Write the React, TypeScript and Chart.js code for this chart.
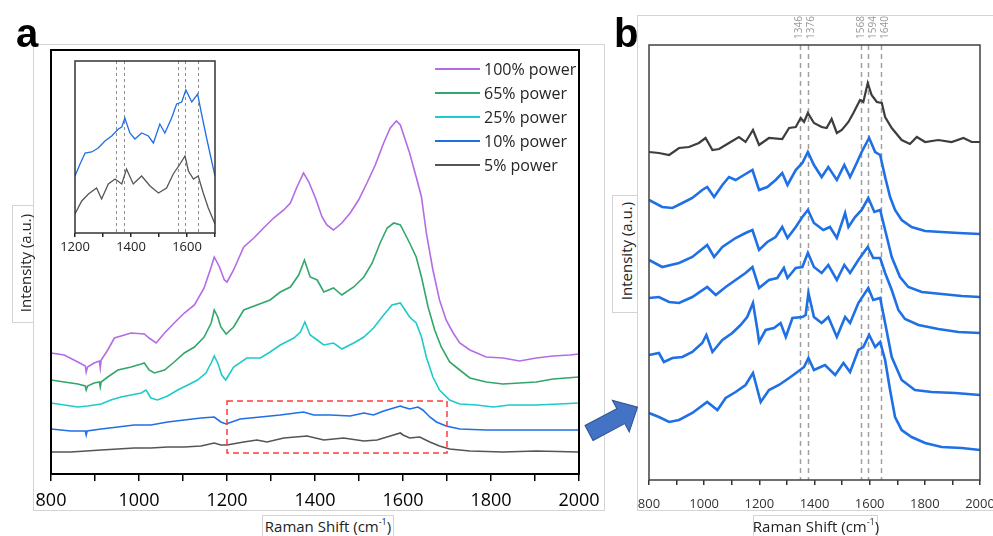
import React, { useEffect, useRef } from 'react';
import { Chart, registerables } from 'chart.js';

Chart.register(...registerables);

type Pt = [number, number];

// ---------- axis / annotation values ----------
const xTickLabels = [800, 1000, 1200, 1400, 1600, 1800, 2000];
const insetTickLabels = [1200, 1400, 1600];
const peakPositions = [1346, 1376, 1568, 1594, 1640];
const zoomBoxX = [1200, 1700];
const zoomBoxY = [21, 73];
const seriesLabelsA = ['100% power', '65% power', '25% power', '10% power', '5% power'];

// ---------- panel a : spectra (Raman shift, intensity a.u.) ----------
const power100: Pt[] = [
  [800, 121], [830, 119], [861, 112], [878, 108], [880, 102], [883, 107], [898, 111], [910, 113], [912, 106], [914, 114],
  [929, 124], [944, 136], [967, 139], [982, 141], [1012, 140], [1023, 136], [1039, 131], [1058, 141], [1080, 151],
  [1103, 161], [1126, 169], [1148, 186], [1164, 207], [1171, 217], [1183, 207], [1194, 194], [1200, 192], [1215, 204],
  [1238, 227], [1261, 236], [1283, 246], [1306, 256], [1329, 264], [1344, 271], [1359, 287], [1374, 301], [1386, 292],
  [1401, 276], [1416, 257], [1427, 249], [1442, 244], [1461, 251], [1480, 261], [1499, 274], [1518, 291], [1537, 309],
  [1556, 331], [1571, 346], [1585, 353], [1594, 349], [1600, 341], [1615, 321], [1630, 297], [1642, 277], [1653, 241],
  [1668, 204], [1683, 174], [1698, 154], [1714, 141], [1729, 131], [1752, 124], [1789, 117], [1827, 116], [1865, 113],
  [1903, 116], [1941, 118], [1979, 119], [2000, 120],
];
const power65: Pt[] = [
  [800, 94], [830, 92], [861, 90], [878, 88], [880, 84], [883, 88], [898, 91], [910, 92], [912, 87], [914, 92],
  [929, 97], [952, 104], [982, 107], [1005, 110], [1012, 111], [1023, 104], [1035, 101], [1058, 104], [1080, 112],
  [1103, 121], [1126, 127], [1148, 137], [1164, 151], [1171, 164], [1179, 157], [1186, 147], [1198, 140], [1215, 147],
  [1238, 164], [1268, 169], [1298, 174], [1321, 182], [1344, 187], [1363, 199], [1376, 214], [1389, 197], [1405, 194],
  [1420, 182], [1442, 186], [1461, 179], [1488, 187], [1511, 197], [1530, 211], [1548, 231], [1564, 246], [1579, 251],
  [1594, 249], [1600, 244], [1615, 231], [1630, 217], [1642, 197], [1657, 167], [1672, 144], [1687, 127], [1706, 112],
  [1729, 104], [1752, 96], [1789, 92], [1827, 90], [1865, 91], [1903, 92], [1941, 95], [2000, 97],
];
const power25: Pt[] = [
  [800, 71], [830, 69], [861, 67], [883, 68], [914, 70], [936, 74], [959, 77], [982, 79], [1005, 81], [1016, 84],
  [1027, 76], [1042, 74], [1065, 78], [1088, 84], [1111, 89], [1133, 94], [1152, 101], [1164, 111], [1171, 118],
  [1179, 111], [1188, 99], [1197, 94], [1215, 107], [1245, 116], [1276, 116], [1298, 122], [1321, 129], [1352, 136],
  [1367, 142], [1377, 152], [1389, 139], [1405, 134], [1420, 129], [1442, 131], [1461, 125], [1488, 131], [1511, 137],
  [1533, 146], [1556, 159], [1575, 169], [1594, 171], [1600, 167], [1615, 157], [1630, 151], [1642, 137], [1653, 117],
  [1668, 97], [1683, 84], [1706, 74], [1729, 70], [1767, 69], [1805, 67], [1842, 69], [1903, 69], [1956, 70], [2000, 71],
];
const power10: Pt[] = [
  [800, 45], [845, 43], [878, 43], [880, 39], [882, 43], [914, 45], [952, 47], [989, 49], [1027, 49], [1065, 52],
  [1103, 54], [1141, 56], [1171, 57], [1186, 52], [1198, 50], [1230, 55], [1276, 57], [1321, 59], [1374, 62],
  [1397, 59], [1435, 59], [1480, 58], [1511, 61], [1533, 59], [1556, 63], [1579, 66], [1594, 68], [1600, 67],
  [1615, 65], [1634, 67], [1645, 64], [1661, 57], [1676, 52], [1698, 48], [1729, 45], [1789, 44], [1865, 44], [2000, 44],
];
const power5: Pt[] = [
  [800, 22], [845, 22], [880, 23], [914, 24], [952, 25], [989, 26], [1027, 26], [1065, 27], [1103, 27], [1141, 28],
  [1171, 31], [1186, 29], [1200, 29], [1238, 32], [1268, 34], [1291, 32], [1329, 36], [1382, 38], [1420, 34],
  [1465, 36], [1511, 33], [1541, 34], [1571, 38], [1594, 41], [1600, 39], [1615, 36], [1638, 37], [1661, 32],
  [1683, 28], [1706, 25], [1752, 23], [1827, 22], [1903, 23], [2000, 22],
];

// ---------- panel a inset (1200-1700 zoom) ----------
const insetBlue: Pt[] = [
  [1200, 57], [1218, 69], [1236, 80], [1260, 81], [1283, 85], [1307, 92], [1331, 97], [1355, 104], [1367, 106],
  [1378, 115], [1396, 100], [1414, 94], [1438, 100], [1462, 97], [1480, 90], [1503, 109], [1521, 100], [1545, 115],
  [1563, 129], [1581, 131], [1596, 143], [1617, 131], [1638, 139], [1652, 119], [1670, 95], [1688, 72], [1700, 57],
];
const insetGray: Pt[] = [
  [1200, 19], [1224, 32], [1248, 39], [1277, 45], [1295, 34], [1319, 49], [1343, 54], [1367, 49], [1384, 64],
  [1408, 49], [1438, 57], [1468, 47], [1498, 40], [1527, 45], [1551, 59], [1575, 69], [1593, 77], [1605, 62],
  [1623, 54], [1640, 57], [1658, 40], [1676, 25], [1700, 9],
];

// ---------- panel b : stacked spectra ----------
const bGray: Pt[] = [
  [800, 328], [836, 327], [873, 325], [909, 332], [945, 333], [981, 337], [1005, 342], [1030, 330], [1054, 331],
  [1090, 337], [1126, 343], [1150, 338], [1177, 350], [1199, 335], [1235, 342], [1283, 341], [1308, 352], [1332, 353],
  [1350, 362], [1362, 358], [1376, 367], [1398, 357], [1426, 353], [1444, 352], [1462, 361], [1481, 347], [1499, 350],
  [1523, 358], [1541, 367], [1565, 380], [1577, 378], [1593, 397], [1607, 385], [1626, 378], [1644, 377], [1656, 363],
  [1680, 352], [1716, 340], [1746, 336], [1771, 343], [1801, 338], [1849, 340], [1897, 338], [1940, 342], [1970, 338],
  [2000, 338],
];
const bBlue1: Pt[] = [
  [800, 280], [848, 273], [885, 272], [921, 277], [957, 282], [993, 290], [1011, 293], [1036, 283], [1066, 295],
  [1090, 303], [1114, 300], [1144, 305], [1175, 310], [1199, 290], [1229, 293], [1259, 300], [1283, 307], [1302, 295],
  [1332, 310], [1356, 317], [1376, 328], [1398, 315], [1426, 303], [1450, 313], [1481, 300], [1508, 315], [1529, 303],
  [1553, 317], [1571, 328], [1598, 342], [1620, 328], [1638, 325], [1656, 303], [1674, 283], [1692, 270], [1716, 260],
  [1752, 253], [1801, 249], [1861, 248], [1922, 247], [2000, 246],
];
const bBlue2: Pt[] = [
  [800, 220], [848, 213], [909, 217], [957, 223], [1011, 235], [1036, 223], [1066, 233], [1114, 242], [1150, 247],
  [1175, 250], [1199, 230], [1229, 238], [1259, 243], [1283, 253], [1302, 242], [1332, 253], [1356, 263], [1376, 270],
  [1398, 257], [1432, 250], [1456, 253], [1481, 242], [1511, 267], [1523, 253], [1547, 263], [1571, 270], [1595, 282],
  [1617, 268], [1638, 270], [1656, 250], [1680, 223], [1710, 203], [1740, 193], [1789, 188], [1861, 186], [1934, 184],
  [2000, 183],
];
const bBlue3: Pt[] = [
  [800, 182], [836, 183], [873, 178], [909, 177], [957, 183], [1011, 193], [1042, 185], [1078, 193], [1114, 200],
  [1150, 207], [1175, 213], [1199, 192], [1235, 200], [1265, 202], [1289, 212], [1302, 202], [1332, 212], [1356, 213],
  [1376, 227], [1398, 213], [1426, 207], [1450, 215], [1481, 200], [1508, 215], [1529, 207], [1559, 220], [1593, 233],
  [1613, 222], [1638, 222], [1656, 207], [1680, 190], [1704, 170], [1728, 161], [1777, 155], [1849, 151], [1922, 148],
  [2000, 147],
];
const bBlue4: Pt[] = [
  [800, 125], [836, 127], [854, 118], [885, 122], [921, 123], [957, 128], [993, 137], [1008, 145], [1030, 128],
  [1066, 140], [1102, 147], [1132, 155], [1156, 163], [1177, 177], [1193, 150], [1199, 138], [1223, 150], [1253, 152],
  [1277, 157], [1296, 143], [1320, 162], [1356, 163], [1368, 165], [1378, 187], [1398, 163], [1426, 157], [1450, 163],
  [1481, 143], [1511, 163], [1529, 157], [1559, 177], [1595, 192], [1613, 180], [1638, 182], [1656, 157], [1680, 123],
  [1716, 100], [1764, 90], [1825, 88], [1910, 87], [2000, 85],
];
const bBlue5: Pt[] = [
  [800, 67], [836, 63], [873, 58], [909, 60], [957, 67], [1011, 78], [1048, 70], [1078, 82], [1114, 88], [1150, 95],
  [1177, 107], [1205, 78], [1235, 90], [1271, 95], [1308, 102], [1338, 108], [1362, 113], [1378, 122], [1398, 110],
  [1438, 115], [1475, 105], [1505, 117], [1529, 108], [1559, 130], [1577, 133], [1598, 145], [1620, 133], [1638, 138],
  [1656, 120], [1674, 90], [1692, 63], [1716, 50], [1752, 43], [1801, 37], [1861, 33], [1934, 32], [2000, 30],
];

// ---------- styling ----------
const FONT = '"Open Sans", "Noto Sans", sans-serif';
const COLORS_A = ['#B46BE6', '#33A66A', '#1FCACA', '#1F6FE5', '#555555'];
const BLUE = '#1F6FE5';

Chart.defaults.font.family = FONT;

const toXY = (pts: Pt[]) => pts.map(([x, y]) => ({ x, y }));

const framePlugin = (color: string, width: number) => ({
  id: 'frame',
  afterDraw(chart: any) {
    const { ctx, chartArea: a } = chart;
    ctx.save();
    ctx.strokeStyle = color;
    ctx.lineWidth = width;
    ctx.strokeRect(a.left, a.top, a.right - a.left, a.bottom - a.top);
    ctx.restore();
  },
});

const peakLinesPlugin = (values: number[], color: string, width: number, dash: number[], labels: boolean) => ({
  id: 'peakLines',
  beforeDatasetsDraw(chart: any) {
    const { ctx, chartArea: a, scales } = chart;
    const x = scales.x;
    ctx.save();
    ctx.strokeStyle = color;
    ctx.lineWidth = width;
    ctx.setLineDash(dash);
    values.forEach((v) => {
      const px = Math.round(x.getPixelForValue(v)) + 0.5;
      ctx.beginPath();
      ctx.moveTo(px, a.top);
      ctx.lineTo(px, a.bottom);
      ctx.stroke();
    });
    ctx.setLineDash([]);
    if (labels) {
      ctx.fillStyle = '#9a9a9a';
      ctx.font = `10px ${FONT}`;
      ctx.textAlign = 'left';
      ctx.textBaseline = 'middle';
      let last = -Infinity;
      values.forEach((v) => {
        let px = x.getPixelForValue(v);
        px = Math.max(px, last + 12);
        last = px;
        ctx.save();
        ctx.translate(px, a.top - 6);
        ctx.rotate(-Math.PI / 2);
        ctx.fillText(String(v), 0, 0);
        ctx.restore();
      });
    }
    ctx.restore();
  },
});

const dashBoxPlugin = {
  id: 'dashBox',
  afterDatasetsDraw(chart: any) {
    const { ctx, scales } = chart;
    const x0 = scales.x.getPixelForValue(zoomBoxX[0]);
    const x1 = scales.x.getPixelForValue(zoomBoxX[1]);
    const y0 = scales.y.getPixelForValue(zoomBoxY[1]);
    const y1 = scales.y.getPixelForValue(zoomBoxY[0]);
    ctx.save();
    ctx.strokeStyle = '#FF3B3B';
    ctx.lineWidth = 1.5;
    ctx.setLineDash([6, 4]);
    ctx.strokeRect(x0, y0, x1 - x0, y1 - y0);
    ctx.restore();
  },
};

const sideLegendPlugin = {
  id: 'sideLegend',
  afterDraw(chart: any) {
    const { ctx, chartArea: a } = chart;
    ctx.save();
    ctx.font = `16px ${FONT}`;
    ctx.textAlign = 'left';
    ctx.textBaseline = 'middle';
    chart.data.datasets.forEach((ds: any, i: number) => {
      const y = a.top + 19 + i * 24;
      ctx.strokeStyle = ds.borderColor;
      ctx.lineWidth = 2;
      ctx.beginPath();
      ctx.moveTo(a.right - 144, y);
      ctx.lineTo(a.right - 99, y);
      ctx.stroke();
      ctx.fillStyle = '#262626';
      ctx.fillText(ds.label, a.right - 95, y + 1);
    });
    ctx.restore();
  },
};

const xAxis = (opts: { min: number; max: number; labels: number[]; size: number; pad: number; tl: number; h: number; color: string }) => ({
  type: 'linear',
  min: opts.min,
  max: opts.max,
  afterFit: (s: any) => {
    s.height = opts.h;
  },
  ticks: {
    stepSize: 100,
    autoSkip: false,
    maxRotation: 0,
    minRotation: 0,
    padding: opts.pad,
    color: opts.color,
    font: { size: opts.size, family: FONT },
    callback: (v: any) => (opts.labels.includes(Number(v)) ? String(v) : ''),
  },
  grid: { drawOnChartArea: false, drawTicks: true, tickLength: opts.tl, color: opts.color, lineWidth: 1.5 },
  border: { display: false },
});

const configA = () => ({
  type: 'line',
  data: {
    datasets: [power100, power65, power25, power10, power5].map((d, i) => ({
      label: seriesLabelsA[i],
      data: toXY(d),
      borderColor: COLORS_A[i],
      borderWidth: 1.6,
      pointRadius: 0,
      tension: 0,
      fill: false,
    })),
  },
  options: {
    animation: false,
    responsive: false,
    layout: { padding: { left: 51, top: 50, right: 31, bottom: 22 } },
    plugins: { legend: { display: false }, tooltip: { enabled: false } },
    scales: {
      x: xAxis({ min: 800, max: 2000, labels: xTickLabels, size: 18, pad: 9, tl: 7, h: 40, color: '#000' }),
      y: { display: false, min: 0, max: 424 },
    },
  },
  plugins: [dashBoxPlugin, sideLegendPlugin, framePlugin('#000', 2)],
});

const configInset = () => ({
  type: 'line',
  data: {
    datasets: [
      { label: '10% power', data: toXY(insetBlue), borderColor: BLUE, borderWidth: 1.3, pointRadius: 0, tension: 0 },
      { label: '5% power', data: toXY(insetGray), borderColor: '#555555', borderWidth: 1.3, pointRadius: 0, tension: 0 },
    ],
  },
  options: {
    animation: false,
    responsive: false,
    layout: { padding: { left: 20, top: 11, right: 25, bottom: 7 } },
    plugins: { legend: { display: false }, tooltip: { enabled: false } },
    scales: {
      x: xAxis({ min: 1200, max: 1700, labels: insetTickLabels, size: 13, pad: 2, tl: 4, h: 25, color: '#222' }),
      y: { display: false, min: 0, max: 172 },
    },
  },
  plugins: [peakLinesPlugin(peakPositions, '#8c8c8c', 1, [3, 3], false), framePlugin('#333', 1.5)],
});

const configB = () => ({
  type: 'line',
  data: {
    datasets: [
      { label: 'spectrum 1', data: toXY(bGray), borderColor: '#3d3d3d', borderWidth: 2.2, pointRadius: 0, tension: 0 },
      ...[bBlue1, bBlue2, bBlue3, bBlue4, bBlue5].map((d, i) => ({
        label: `spectrum ${i + 2}`,
        data: toXY(d),
        borderColor: BLUE,
        borderWidth: 2.6,
        pointRadius: 0,
        tension: 0,
      })),
    ],
  },
  options: {
    animation: false,
    responsive: false,
    layout: { padding: { left: 49, top: 45, right: 40, bottom: 16 } },
    plugins: { legend: { display: false }, tooltip: { enabled: false } },
    scales: {
      x: xAxis({ min: 800, max: 2000, labels: xTickLabels, size: 13, pad: 11, tl: 5, h: 40, color: '#333' }),
      y: { display: false, min: 0, max: 435 },
    },
  },
  plugins: [peakLinesPlugin(peakPositions, '#a0a0a0', 1.5, [5, 4], true), framePlugin('#404040', 1.5)],
});

function ChartCanvas({ make, left, top, width, height }: any) {
  const ref = useRef<HTMLCanvasElement>(null);
  useEffect(() => {
    const chart = new Chart(ref.current as HTMLCanvasElement, make());
    return () => chart.destroy();
  }, []);
  return (
    <canvas
      ref={ref}
      width={width}
      height={height}
      style={{ position: 'absolute', left, top, width, height }}
    />
  );
}

const abs = (s: any) => ({ position: 'absolute' as const, ...s });

function YTitle({ cx, cy }: { cx: number; cy: number }) {
  return (
    <div
      style={abs({
        left: cx,
        top: cy,
        transform: 'translate(-50%, -50%) rotate(-90deg)',
        whiteSpace: 'nowrap',
        fontSize: 15,
        color: '#222',
        lineHeight: '18px',
      })}
    >
      Intensity (a.u.)
    </div>
  );
}

function XTitle({ cx, cy }: { cx: number; cy: number }) {
  return (
    <div
      style={abs({
        left: cx,
        top: cy,
        transform: 'translate(-50%, -50%)',
        whiteSpace: 'nowrap',
        fontSize: 15,
        color: '#222',
        lineHeight: '18px',
      })}
    >
      Raman Shift (cm<sup style={{ fontSize: 9, verticalAlign: 'top', lineHeight: '10px' }}>-1</sup>)
    </div>
  );
}

export default function App() {
  const frame = '1px solid #d4d4d4';
  return (
    <div
      style={{
        position: 'absolute',
        left: 0,
        top: 0,
        width: 993,
        height: 536,
        overflow: 'hidden',
        background: '#fff',
        fontFamily: FONT,
      }}
    >
      {/* slide frames */}
      <div style={abs({ left: 33, top: 44, width: 572, height: 467, border: frame, boxSizing: 'border-box' })} />
      <div style={abs({ left: 637, top: 15, width: 400, height: 496, border: frame, boxSizing: 'border-box' })} />

      <ChartCanvas make={configA} left={0} top={0} width={610} height={536} />
      <ChartCanvas make={configInset} left={55} top={50} width={185} height={215} />
      <ChartCanvas make={configB} left={600} top={0} width={420} height={536} />

      {/* axis title boxes */}
      <div style={abs({ left: 12, top: 205, width: 22, height: 118, border: frame, boxSizing: 'border-box', background: '#fff' })} />
      <YTitle cx={25} cy={263} />
      <div style={abs({ left: 612, top: 195, width: 26, height: 118, border: frame, boxSizing: 'border-box', background: '#fff' })} />
      <YTitle cx={626} cy={251} />
      <div style={abs({ left: 262, top: 515, width: 132, height: 30, border: frame, boxSizing: 'border-box', background: '#fff' })} />
      <XTitle cx={328} cy={526} />
      <div style={abs({ left: 753, top: 515, width: 125, height: 30, border: frame, boxSizing: 'border-box', background: '#fff' })} />
      <XTitle cx={816} cy={526} />

      {/* panel letters */}
      <div style={abs({ left: 16, top: 13, fontSize: 40, lineHeight: '40px', fontWeight: 'bold', fontFamily: '"Liberation Sans", Arial, sans-serif', color: '#000' })}>a</div>
      <div style={abs({ left: 614, top: 13, fontSize: 40, lineHeight: '40px', fontWeight: 'bold', fontFamily: '"Liberation Sans", Arial, sans-serif', color: '#000' })}>b</div>

      {/* arrow from panel a to panel b */}
      <svg width={993} height={536} style={abs({ left: 0, top: 0, pointerEvents: 'none' })}>
        <polygon
          points="0,-8.5 36,-8.5 36,-18 55,0 36,18 36,8.5 0,8.5"
          transform="translate(589,433) rotate(-28)"
          fill="#4472C4"
          stroke="#2F528F"
          strokeWidth={1}
        />
      </svg>
    </div>
  );
}
